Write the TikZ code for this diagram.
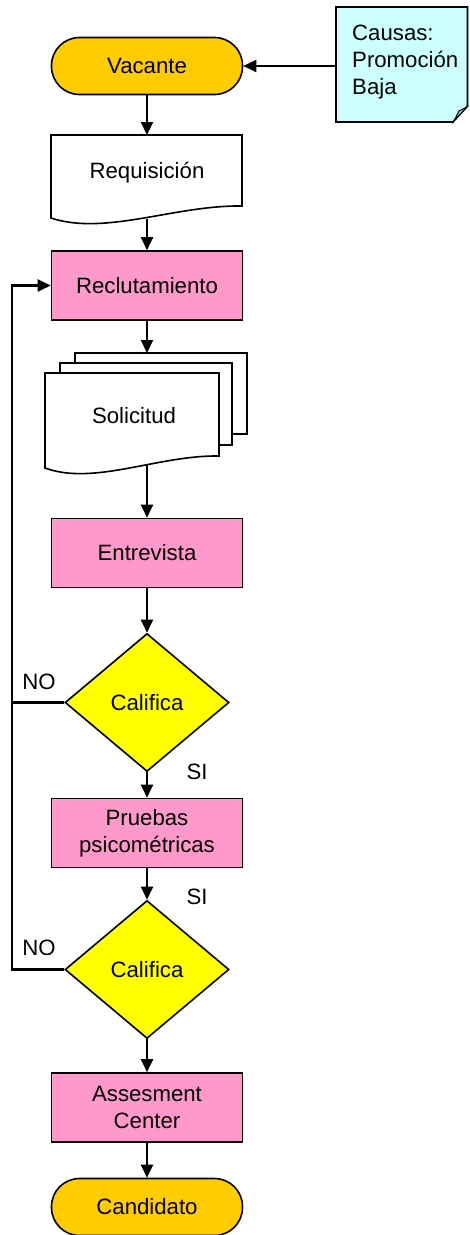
\documentclass[tikz,border=0pt]{standalone}
\usepackage{fontspec}
\setmainfont{Liberation Sans}
\usetikzlibrary{arrows.meta,shapes.geometric}
\definecolor{termfill}{HTML}{FFCC00}
\definecolor{procfill}{HTML}{FF99CC}
\definecolor{decfill}{HTML}{FFFF00}
\definecolor{notefill}{HTML}{CCFFFF}
\definecolor{foldfill}{HTML}{A8C4C4}

\begin{document}
\begin{tikzpicture}[x=1pt,y=-1pt,
  every node/.style={font=\fontsize{22.2}{27}\selectfont},
  outline/.style={draw=black, line width=1.6pt},
  terminal/.style={outline, fill=termfill, rounded corners=28pt,
    minimum width=191pt, minimum height=57pt, inner sep=0pt},
  process/.style={outline, fill=procfill, minimum width=191pt,
    minimum height=69pt, inner sep=0pt, align=center},
  decision/.style={outline, fill=decfill, diamond, minimum width=164pt,
    minimum height=138pt, inner sep=0pt},
  flow/.style={line width=2.2pt, -{Triangle[length=13pt,width=12pt]}},
  plain/.style={line width=2.2pt},
  tag/.style={inner sep=0pt}
]
\useasboundingbox (0,0) rectangle (469,1235);

% start terminal
\node[terminal] (vac) at (147,66) {Vacante};

% annotation with folded corner
\path[outline, fill=notefill] (336,7) -- (467.5,7) -- (467.5,106)
  -- (453,122) -- (336,122) -- cycle;
\path[outline, fill=foldfill, line width=1pt] (467,107) -- (454,121) -- (459,111) -- cycle;
\node[tag, anchor=west, align=left] (causas) at (352,62.5)
  {Causas:\\Promoción\\Baja};
\coordinate (notein) at (336,66);
\draw[flow] (notein) -- (vac.east);

% requisition document
\path[outline, fill=white] (51,135) -- (242,135) -- (242,206)
  .. controls (175,205) and (105,236) .. (51,218) -- cycle;
\node[tag] (req) at (147,173) {Requisición};
\coordinate (reqtop) at (147,135);
\coordinate (reqbot) at (147,218.5);
\draw[flow] (vac.south) -- (reqtop);

\node[process] (rec) at (147,285.5) {Reclutamiento};
\draw[flow] (reqbot) -- (rec.north);

% stacked application documents
\path[outline, fill=white] (75,353) rectangle (247,434);
\path[outline, fill=white] (60,363) rectangle (232,445);
\path[outline, fill=white] (45,373) -- (219,373) -- (219,456)
  .. controls (158,455) and (94,486) .. (45,468) -- cycle;
\node[tag] (sol) at (134,416) {Solicitud};
\coordinate (soltop) at (147,353);
\coordinate (solbot) at (147,465);
\draw[flow] (rec.south) -- (soltop);

\node[process] (ent) at (147,553) {Entrevista};
\draw[flow] (solbot) -- (ent.north);

\node[decision] (cal1) at (147,702.5) {Califica};
\draw[flow] (ent.south) -- (cal1.north);

\node[process] (pru) at (147,833) {Pruebas\\psicométricas};
\draw[flow] (cal1.south) -- (pru.north);

\node[decision] (cal2) at (147,969.5) {Califica};
\draw[flow] (pru.south) -- (cal2.north);

\node[process] (ass) at (147,1107.5) {Assesment\\Center};
\draw[flow] (cal2.south) -- (ass.north);

\node[terminal] (can) at (147,1207) {Candidato};
\draw[flow] (ass.south) -- (can.north);

% rejection loop back to recruitment
\coordinate (rail) at (12,0);
\draw[plain] (cal2.west) -- (cal2.west -| rail) -- (cal1.west -| rail);
\draw[flow] (cal1.west) -- (cal1.west -| rail) |- (rec.west);

% branch labels
\node[tag] (no1) at (39,682) {NO};
\node[tag] (si1) at (197,772) {SI};
\node[tag] (si2) at (197,897) {SI};
\node[tag] (no2) at (39,948) {NO};
\end{tikzpicture}
\end{document}
